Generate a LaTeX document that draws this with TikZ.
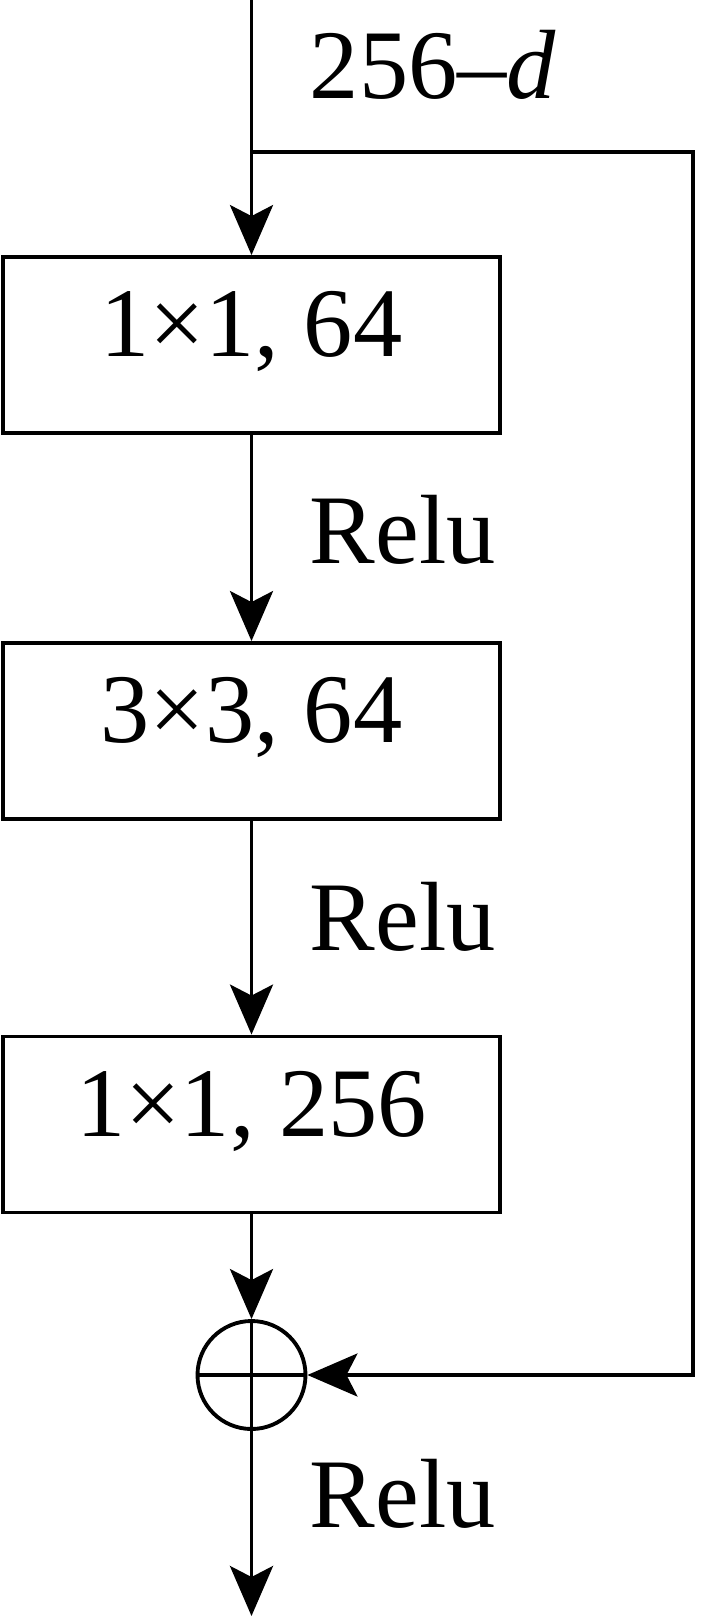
\documentclass[tikz,border=0pt]{standalone}
\usepackage{fontspec}
\setmainfont{Liberation Serif}
\usetikzlibrary{arrows.meta}

\begin{document}
\begin{tikzpicture}[
		line width=1.1pt,
		font=\fontsize{28}{32}\selectfont,
		block/.style={draw, rectangle, minimum width=4.97cm, minimum height=1.76cm,
			inner sep=0pt, text height=0.66em, text depth=0pt},
		lbl/.style={anchor=base west, inner sep=0pt},
		arr/.style={-{Stealth[length=0.5cm, width=0.43cm, inset=0.11cm]}}
	]
		\useasboundingbox (0,0) rectangle (7,-16.16);
		\coordinate (in) at (2.515,0);
		\coordinate (split) at (2.515,-1.52);
		\coordinate (c1) at (6.93,-1.52);
		\coordinate (c2) at (6.93,-13.75);
		\coordinate (out) at (2.515,-16.16);
		\node[block] (conv1) at (2.515,-3.45) {1×1, 64};
		\node[block] (conv2) at (2.515,-7.31) {3×3, 64};
		\node[block] (conv3) at (2.515,-11.245) {1×1, 256};
		\node[draw, circle, minimum size=1.08cm, inner sep=0pt] (sum) at (2.515,-13.75) {};
		\node[lbl] (dim) at (3.08,-0.98) {256--\textit{d}};
		\node[lbl] (relu1) at (3.08,-5.63) {Relu};
		\node[lbl] (relu2) at (3.08,-9.50) {Relu};
		\node[lbl] (relu3) at (3.08,-15.27) {Relu};
		\draw[arr] (in) -- (conv1.north);
		\draw[arr] (conv1) -- (conv2);
		\draw[arr] (conv2) -- (conv3);
		\draw[arr] (conv3) -- (sum.north);
		\draw[arr] (sum.south) -- (out);
		\draw[arr] (split) -- (c1) -- (c2) -- (sum.east);
		\draw (sum.north) -- (sum.south) (sum.west) -- (sum.east);
	\end{tikzpicture}
\end{document}
